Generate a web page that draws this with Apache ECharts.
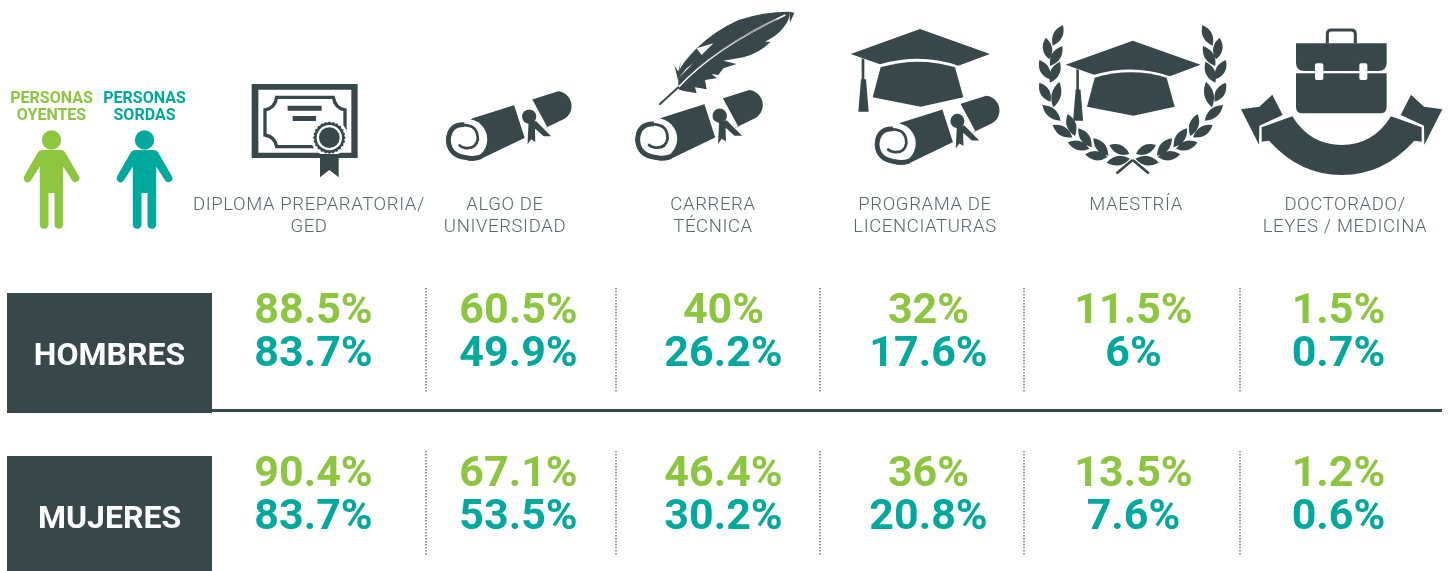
<!DOCTYPE html>
<html><head><meta charset="utf-8">
<style>html,body{margin:0;padding:0;background:#fff}#c{width:1451px;height:571px}</style>
<script src="https://cdn.jsdelivr.net/npm/echarts@6/dist/echarts.min.js"></script>
</head><body><div id="c"></div>
<script>
const categories = ['DIPLOMA PREPARATORIA/\nGED','ALGO DE\nUNIVERSIDAD','CARRERA\nTÉCNICA','PROGRAMA DE\nLICENCIATURAS','MAESTRÍA','DOCTORADO/\nLEYES / MEDICINA'];
const groups = ['PERSONAS\nOYENTES','PERSONAS\nSORDAS'];
const rowNames = ['HOMBRES','MUJERES'];
const hombresOyentes = [88.5,60.5,40,32,11.5,1.5];
const hombresSordas = [83.7,49.9,26.2,17.6,6,0.7];
const mujeresOyentes = [90.4,67.1,46.4,36,13.5,1.2];
const mujeresSordas = [83.7,53.5,30.2,20.8,7.6,0.6];

/* captions in the reference are tracked out: light-weight text gets letter spacing */
const nativeFill = CanvasRenderingContext2D.prototype.fillText;
CanvasRenderingContext2D.prototype.fillText = function(t,x,y,m){
  this.letterSpacing = String(this.font).indexOf('300')===0 ? '0.62px' : '0px';
  return m===undefined ? nativeFill.call(this,t,x,y) : nativeFill.call(this,t,x,y,m);
};

const GREEN='#8cc63f', TEAL='#00a99d', DARK='#37474a', WHITE='#fff';
const FONT='Roboto';
const W={fill:WHITE}, D={fill:DARK};
const g=[], icons=[];
function p(d,style,o){icons.push(Object.assign({type:'path',shape:{pathData:d},style:Object.assign({},style)},o||{}));}
function z(ox,oy,s){const k=s||1/3;return {x:ox,y:oy,scaleX:k,scaleY:k};}
function circle(cx,cy,r){return `M${cx-r},${cy}A${r},${r} 0 1,1 ${cx+r},${cy}A${r},${r} 0 1,1 ${cx-r},${cy}Z`;}

/* boxes and rule */
[[293,120],[456,115]].forEach(([y,h],i)=>{
  g.push({type:'rect',shape:{x:7,y,width:205,height:h},style:{fill:DARK},silent:true});
  g.push({type:'text',x:109.5,y:y+64,style:{text:rowNames[i],fill:WHITE,font:`700 32px ${FONT}`,align:'center',verticalAlign:'middle'},silent:true});
});
g.push({type:'rect',shape:{x:212,y:409,width:1230,height:3},style:{fill:DARK},silent:true});
[426,616,820,1024,1240].forEach(x=>{
  [[288,393],[451,556]].forEach(([a,b])=>{
    g.push({type:'line',shape:{x1:x,y1:a,x2:x,y2:b},style:{stroke:'#555',lineWidth:1.2,lineDash:[1.5,1.5]},silent:true});
  });
});

/* key */
const person='M-9,150L9,150Q12.5,150 14,153L27.5,176.5A4,4 0 0,1 21,181L11.7,166.5L11.7,225A4.4,4.4 0 0,1 3,225L3,193L-3,193L-3,225A4.4,4.4 0 0,1 -11.7,225L-11.7,166.5L-21,181A4,4 0 0,1 -27.5,176.5L-14,153Q-12.5,150 -9,150Z';
[[51.5,GREEN],[144.5,TEAL]].forEach(([cx,c],i)=>{
  p(person,{fill:c},{x:cx,y:0});
  p(circle(0,140,9.7),{fill:c},{x:cx,y:0});
  g.push({type:'text',x:cx,y:107.5,style:{text:groups[i],fill:c,font:`700 16px ${FONT}`,lineHeight:17.5,align:'center',verticalAlign:'middle'},silent:true});
});

/* category captions */
[309,505,713,925,1136,1345].forEach((cx,i)=>{
  g.push({type:'text',x:cx,y:205+(categories[i].includes('\n')?11:0),style:{text:categories[i],fill:'#59666a',font:`300 18.5px ${FONT}`,lineHeight:22,align:'center',verticalAlign:'middle'},silent:true});
});

/* diploma, zoom coordinates */
{const o=z(0,70);
 p('M755,42L1073,42L1073,264L755,264Z',D,o);
 p('M775,59L1054,59L1054,248L775,248Z',W,o);
 p('M830,82L1000,82Q1005,115 1035,120L1035,195Q1005,200 1000,230L830,230Q825,200 795,195L795,120Q825,115 830,82Z',{fill:'none',stroke:DARK,lineWidth:10},o);
 p('M863,107L965,107L965,122L863,122ZM878,138L948,138L948,153L878,153Z',D,o);
 p(circle(988,203,56),W,o);
 let s='';for(let i=0;i<24;i++){const a=i*Math.PI/12,b=a+Math.PI/24;const r1=49,r2=45;s+=(i?'L':'M')+(988+r1*Math.cos(a))+','+(203+r1*Math.sin(a))+'L'+(988+r2*Math.cos(b))+','+(203+r2*Math.sin(b));}
 p(s+'Z',D,o);
 p(circle(988,203,38),W,o);
 p(circle(988,203,31),D,o);
 p('M960,252L1016,252L1016,322L988,300L960,322Z',D,o);
}

/* scroll */
function scroll(ox,oy,k){const o=z(ox,oy,k);
 p('M125,350L378,270A44,44 0 0,1 395,352L150,470Q125,480 100,472Q50,460 46,415Q48,362 105,362Z',D,o);
 p(circle(108,412,60),W,o);
 p('M150,464Q125,472 105,466Q55,460 53,415Q55,368 100,369',{fill:'none',stroke:DARK,lineWidth:14},o);
 p('M95,370Q140,368 140,412Q135,440 105,438Q92,436 86,430',{fill:'none',stroke:DARK,lineWidth:8,lineCap:'round'},o);
 p('M247,310L300,292L345,375L280,412Z',W,o);
 p('M288,365L287,427L298,412L310,420L311,385L335,403L357,403L310,360Z',{fill:DARK,stroke:WHITE,lineWidth:7},o);
 p(circle(292,345,28),W,o);
 p(circle(292,345,21),D,o);
 p('M290,364L287,427L298,412L310,420L309,380L335,403L357,403L312,358Z',D,o);
}
scroll(430.5,0,0.338);
scroll(619.5,-2.7,0.3433);
scroll(859.3,5,0.336);

/* feather */
{const o=z(430,0);
 p('M745,215Q760,185 800,145Q850,95 925,60Q1000,35 1078,35Q1082,55 1062,80Q1045,105 1005,125L1022,125Q990,158 940,172L880,182L920,192L880,205L865,225L845,222L860,235L825,240L830,268L795,262L800,280L758,272L745,268Z',D,o);
 p('M742,265Q850,145 1066,45',{fill:'none',stroke:WHITE,lineWidth:5},o);
 p('M748,255Q845,150 1040,58',{fill:'none',stroke:DARK,lineWidth:2},o);
 p('M800,145L850,130L815,165ZM745,235L790,190L770,205Z',W,o);
 p('M690,312L745,262',{fill:'none',stroke:DARK,lineWidth:6,lineCap:'round'},o);
 p('M733,195L745,245L752,185L745,215Z',D,o);
 p('M1078,35L1093,38L1080,68Z',D,o);
}

/* cap */
function cap(mapx,mapy,o){
 const P=(x,y)=>mapx(x)+','+mapy(y);
 p(`M${P(62,132)}L${P(270,57)}L${P(480,132)}L${P(385,167)}Q${P(270,128)} ${P(150,163)}Z`,D,o);
 p(`M${P(152,172)}Q${P(265,138)} ${P(375,172)}L${P(400,262)}L${P(272,290)}L${P(128,262)}Z`,D,o);
 p(`M${P(95,145)}L${P(103,148)}L${P(103,208)}L${P(108,208)}L${P(116,305)}L${P(85,305)}L${P(93,208)}L${P(95,208)}Z`,D,o);
}
{const o=z(830,10);
 cap(x=>x,y=>y,o);
 cap(x=>707+(x-62)*0.968,y=>92+(y-57)*0.968,o);
 const off=[[699,45,668,107],[647,83,658,148],[697,108,660,168],[628,150,660,208],[690,155,660,218],[628,218,662,275],[688,215,670,292],[637,285,692,332],[713,312,735,378],[668,345,727,382],[745,355,785,412],[713,397,778,416],[790,385,835,437],[765,433,833,441],[838,405,898,432],[830,458,900,446]];
 let s='';
 const leaf=(a,b,c,d,w)=>{const mx=(a+c)/2,my=(b+d)/2,dx=c-a,dy=d-b,l=Math.hypot(dx,dy),nx=-dy/l*w,ny=dx/l*w;return `M${a},${b}Q${mx+nx},${my+ny} ${c},${d}Q${mx-nx},${my-ny} ${a},${b}Z`;};
 off.forEach(([a,b,c,d])=>{s+=leaf(a,b,c,d,28);s+=leaf(1816-a,b,1816-c,d,28);});
 p(s,D,o);
 p('M862,488L905,452M954,488L911,452',{fill:'none',stroke:DARK,lineWidth:8,lineCap:'round'},o);
}

/* briefcase and ribbon */
{const o=z(1220,10);
 p('M322,100L322,72Q322,60 334,60L394,60Q406,60 406,72L406,100',{fill:'none',stroke:DARK,lineWidth:9},o);
 p('M228,100L500,100L500,158Q500,183 475,183L253,183Q228,183 228,158Z',D,o);
 p('M228,190L500,190L500,290Q500,310 480,310L248,310Q228,310 228,290Z',D,o);
 p('M285,165Q285,160 290,160L305,160Q310,160 310,165L310,205Q310,210 305,210L290,210Q285,210 285,205ZM418,165Q418,160 423,160L437,160Q442,160 442,165L442,205Q442,210 437,210L423,210Q418,210 418,205Z',W,o);
 p('M125,352L217,319Q270,405 365,405Q460,405 513,319L605,352L605,395L583,392Q490,495 365,495Q240,495 147,392L125,395Z',D,o);
 p('M63,298L118,290L157,254L188,315L118,347L117,404ZM667,298L612,290L573,254L542,315L612,347L613,404Z',D,o);
}

const grid=(top)=>({left:211,width:1230,top,height:86});
const xA=(i)=>({type:'category',gridIndex:i,data:categories,show:false});
const yA=(i)=>({type:'category',gridIndex:i,data:groups,inverse:true,show:false});
function series(values,rowIdx,gridIdx,color){
  return {type:'scatter',xAxisIndex:gridIdx,yAxisIndex:gridIdx,symbolSize:0,silent:true,animation:false,
    data:values.map((v,i)=>[categories[i],groups[rowIdx],v]),
    encode:{x:0,y:1},
    itemStyle:{color:color,opacity:1},
    label:{show:true,position:'inside',color:color,opacity:1,fontFamily:FONT,fontWeight:700,fontSize:43,
      formatter:q=>q.value[2]+'%'}};
}
const chart=echarts.init(document.getElementById('c'),null,{renderer:'canvas'});
chart.setOption({animation:false,backgroundColor:'#fff',
  grid:[grid(290.5),grid(453.5)],xAxis:[xA(0),xA(1)],yAxis:[yA(0),yA(1)],
  series:[series(hombresOyentes,0,0,GREEN),series(hombresSordas,1,0,TEAL),series(mujeresOyentes,0,1,GREEN),series(mujeresSordas,1,1,TEAL),
    {type:'custom',coordinateSystem:'none',silent:true,animation:false,z:1,data:[0],
     renderItem:()=>({type:'group',children:icons})}],
  graphic:{elements:g}});
</script></body></html>
